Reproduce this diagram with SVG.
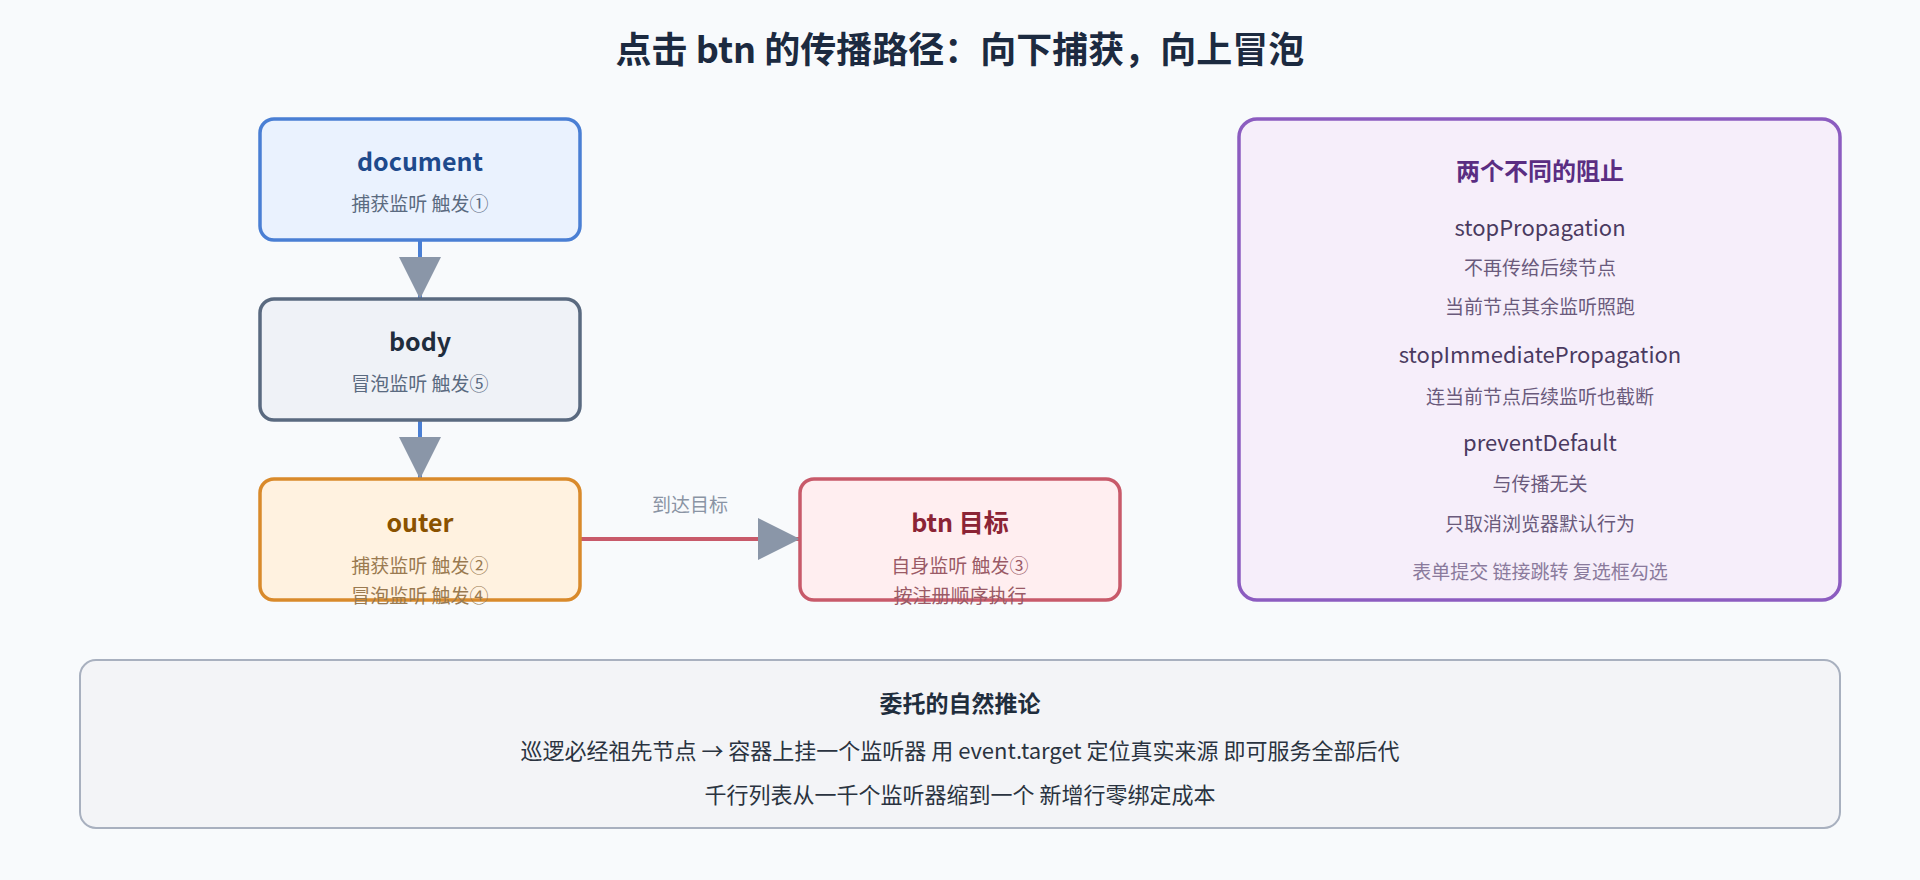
<svg xmlns="http://www.w3.org/2000/svg" width="1920" height="880" viewBox="0 0 1920 880">
<style>
text{font-family:"Noto Sans CJK SC","Noto Sans",sans-serif;text-anchor:middle}
.t{font-size:25px;font-weight:700}
.s{font-size:19px}
.m{font-size:22px;fill:#4a3a60}
.p{font-size:19px;fill:#6a5a7c}
.b{font-size:22px;fill:#2a3340}
</style>
<defs>
<marker id="ah" viewBox="0 0 10 10" refX="10" refY="5" markerWidth="42" markerHeight="42" markerUnits="userSpaceOnUse" orient="auto">
<path d="M0,0 L10,5 L0,10 Z" fill="#8a96a8"/>
</marker>
</defs>
<rect width="1920" height="880" fill="#f8fafc"/>
<text x="960" y="63" style="font-size:36px;font-weight:700;fill:#1c2a40">点击 btn 的传播路径：向下捕获，向上冒泡</text>
<g id="connectors">
<line x1="420" y1="240" x2="420" y2="299" stroke="#4a7fd4" stroke-width="4" marker-end="url(#ah)"/>
<line x1="420" y1="420" x2="420" y2="479" stroke="#4a7fd4" stroke-width="4" marker-end="url(#ah)"/>
<line x1="580" y1="539" x2="800" y2="539" stroke="#c85a6a" stroke-width="4" marker-end="url(#ah)"/>
<text x="690" y="512" class="s" fill="#8a94a4">到达目标</text>
</g>
<g id="document">
<rect x="260" y="119" width="320" height="121" rx="14" fill="#eaf2fe" stroke="#4a7fd4" stroke-width="3.5"/>
<text x="420" y="171" class="t" fill="#1e4a8c">document</text>
<text x="420" y="211" class="s" fill="#5a6a80">捕获监听 触发①</text>
</g>
<g id="body">
<rect x="260" y="299" width="320" height="121" rx="14" fill="#eff2f7" stroke="#5a6a80" stroke-width="3.5"/>
<text x="420" y="351" class="t" fill="#1f2d3d">body</text>
<text x="420" y="391" class="s" fill="#5a6a80">冒泡监听 触发⑤</text>
</g>
<g id="outer">
<rect x="260" y="479" width="320" height="121" rx="14" fill="#fff2e0" stroke="#d98a2b" stroke-width="3.5"/>
<text x="420" y="532" class="t" fill="#8a5200">outer</text>
<text x="420" y="573" class="s" fill="#9a7a50">捕获监听 触发②</text>
<text x="420" y="603" class="s" fill="#9a7a50">冒泡监听 触发④</text>
</g>
<g id="btn">
<rect x="800" y="479" width="320" height="121" rx="14" fill="#ffeef0" stroke="#c85a6a" stroke-width="3.5"/>
<text x="960" y="532" class="t" fill="#8b2435">btn 目标</text>
<text x="960" y="573" class="s" fill="#9a5a66">自身监听 触发③</text>
<text x="960" y="603" class="s" fill="#9a5a66">按注册顺序执行</text>
</g>
<g id="stops">
<rect x="1239" y="119" width="601" height="481" rx="18" fill="#f6eefa" stroke="#8c5cc0" stroke-width="3.5"/>
<text x="1540" y="180" class="t" fill="#5a2d82" style="font-size:24px">两个不同的阻止</text>
<text x="1540" y="236" class="m">stopPropagation</text>
<text x="1540" y="275" class="p">不再传给后续节点</text>
<text x="1540" y="314" class="p">当前节点其余监听照跑</text>
<text x="1540" y="363" class="m">stopImmediatePropagation</text>
<text x="1540" y="404" class="p">连当前节点后续监听也截断</text>
<text x="1540" y="451" class="m">preventDefault</text>
<text x="1540" y="491" class="p">与传播无关</text>
<text x="1540" y="531" class="p">只取消浏览器默认行为</text>
<text x="1540" y="579" class="p" fill="#8a7a9c" style="fill:#8a7a9c">表单提交 链接跳转 复选框勾选</text>
</g>
<g id="delegation">
<rect x="80" y="660" width="1760" height="168" rx="16" fill="#f3f4f7" stroke="#a8b0bf" stroke-width="2"/>
<text x="960" y="712" class="t" fill="#1f2d3d" style="font-size:23px">委托的自然推论</text>
<text x="960" y="759" class="b">巡逻必经祖先节点 → 容器上挂一个监听器 用 event.target 定位真实来源 即可服务全部后代</text>
<text x="960" y="803" class="b">千行列表从一千个监听器缩到一个 新增行零绑定成本</text>
</g>
</svg>
